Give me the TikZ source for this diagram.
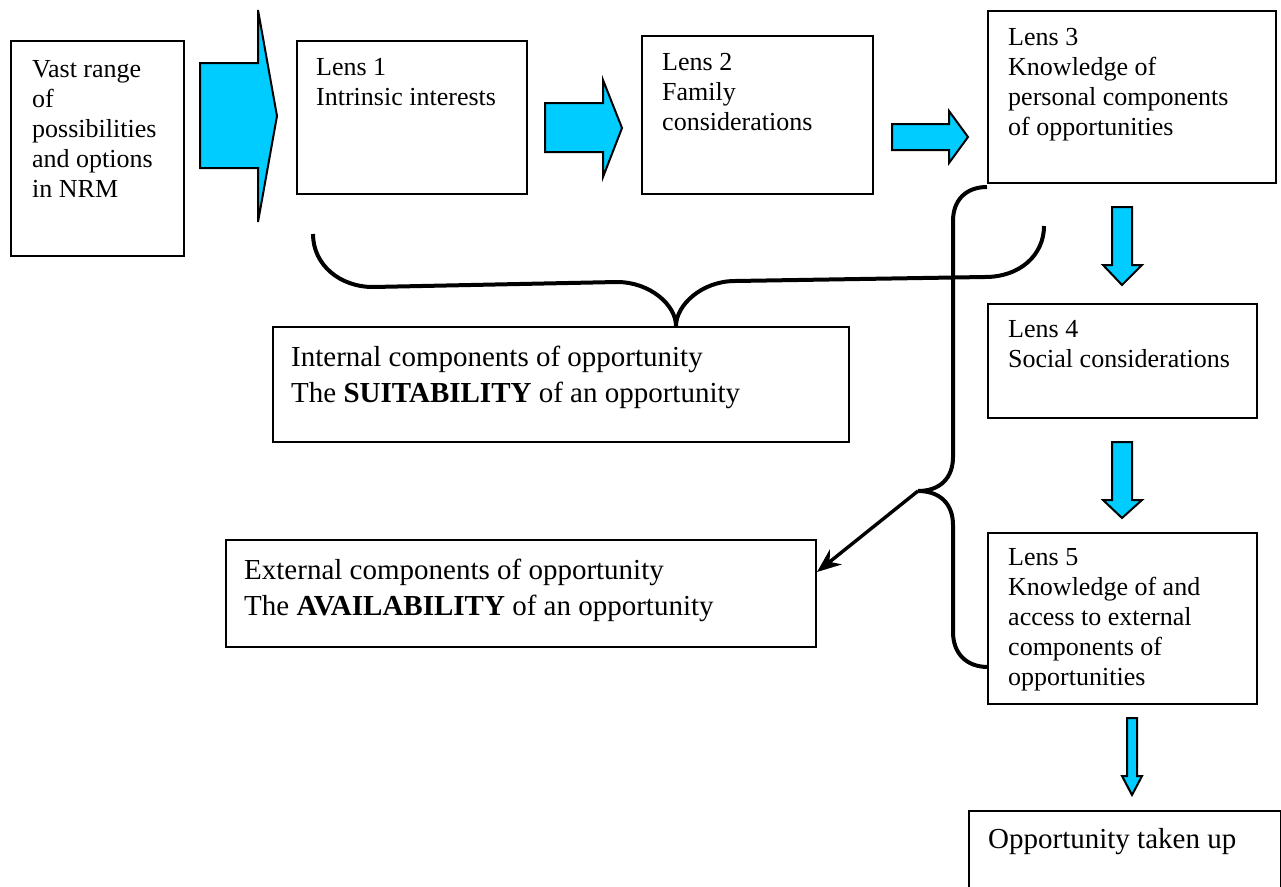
\documentclass[tikz,border=0pt]{standalone}
\usepackage{fontspec}
\setmainfont{Liberation Serif}
\usetikzlibrary{arrows.meta}
\definecolor{skyblue}{HTML}{00CCFF}
\newcommand\stack[1]{\begin{tabular}[t]{@{}l@{}}#1\end{tabular}}
\tikzset{
  box/.style={draw=black, line width=2pt, anchor=north west, inner sep=0pt},
  txt/.style={anchor=base west, inner sep=0pt, font=\fontsize{26}{30}\selectfont},
  bigtxt/.style={anchor=base west, inner sep=0pt, font=\fontsize{29}{36}\selectfont},
  blockarrow/.style={fill=skyblue, draw=black, line width=2pt, line join=miter},
  brace/.style={draw=black, line width=4pt},
  pointer/.style={draw=black, line width=3.4pt, -{Stealth[length=24pt, width=19pt]}},
}
\begin{document}
\begin{tikzpicture}[x=1pt, y=-1pt]
\useasboundingbox[fill=white] (0,0) rectangle (1281,886);

% boxes
\node[box, minimum width=173pt, minimum height=215pt] (vast) at (10,40) {};
\node[box, minimum width=230pt, minimum height=153pt] (lens1) at (296,40) {};
\node[box, minimum width=231pt, minimum height=158pt] (lens2) at (641,35) {};
\node[box, minimum width=288pt, minimum height=172pt] (lens3) at (987,10) {};
\node[box, minimum width=269pt, minimum height=114pt] (lens4) at (987,303) {};
\node[box, minimum width=269pt, minimum height=171pt] (lens5) at (987,532) {};
\node[box, minimum width=576pt, minimum height=115pt] (internal) at (272,326) {};
\node[box, minimum width=590pt, minimum height=107pt] (external) at (225,539) {};
\node[box, minimum width=312pt, minimum height=110pt] (taken) at (968,810) {};

% texts
\node[txt] (vastT) at ([shift={(22,37)}]vast.north west)
  {\stack{Vast range\\of\\possibilities\\and options\\in NRM}};
\node[txt] (lens1T) at ([shift={(20,35)}]lens1.north west)
  {\stack{Lens 1\\Intrinsic interests}};
\node[txt] (lens2T) at ([shift={(21,35)}]lens2.north west)
  {\stack{Lens 2\\Family\\considerations}};
\node[txt] (lens3T) at ([shift={(21,35)}]lens3.north west)
  {\stack{Lens 3\\Knowledge of\\personal components\\of opportunities}};
\node[txt] (lens4T) at ([shift={(21,34)}]lens4.north west)
  {\stack{Lens 4\\Social considerations}};
\node[txt] (lens5T) at ([shift={(21,33)}]lens5.north west)
  {\stack{Lens 5\\Knowledge of and\\access to external\\components of\\opportunities}};
\node[bigtxt] (internalT) at ([shift={(19,40)}]internal.north west)
  {\stack{Internal components of opportunity\\The \textbf{SUITABILITY} of an opportunity}};
\node[bigtxt] (externalT) at ([shift={(19,40)}]external.north west)
  {\stack{External components of opportunity\\The \textbf{AVAILABILITY} of an opportunity}};
\node[bigtxt] (takenT) at ([shift={(20,38)}]taken.north west)
  {Opportunity taken up};

% block arrows
\path[blockarrow] (200,63) -- (258,63) -- (258,10) -- (277,116) -- (258,222) -- (258,168) -- (200,168) -- cycle;
\path[blockarrow] (545,103) -- (603,103) -- (603,80) -- (622,128) -- (603,177) -- (603,152) -- (545,152) -- cycle;
\path[blockarrow] (892,124) -- (949,124) -- (949,111) -- (968,137) -- (949,163) -- (949,150) -- (892,150) -- cycle;
\path[blockarrow] (1112,207) -- (1132,207) -- (1132,265) -- (1142,265) -- (1122,285) -- (1103,265) -- (1112,265) -- cycle;
\path[blockarrow] (1112,442) -- (1132,442) -- (1132,500) -- (1142,500) -- (1122,518) -- (1103,500) -- (1112,500) -- cycle;
\path[blockarrow] (1127,718) -- (1137,718) -- (1137,776) -- (1142,776) -- (1132,795) -- (1122,776) -- (1127,776) -- cycle;

% brace over lenses 1-3
\path[brace] (313,234) .. controls (313,265) and (340,287) .. (373,287) -- (617,282)
  .. controls (650,282) and (676,305) .. (676,326)
  .. controls (676,305) and (702,281) .. (735,281) -- (985,277)
  .. controls (1020,277) and (1044,255) .. (1044,226);

% brace beside lenses 3-5
\coordinate (btip) at (918,491);
\path[brace] (987,187) .. controls (966,187) and (953,200) .. (953,221) -- (953,457)
  .. controls (953,478) and (940,491) .. (btip)
  .. controls (940,491) and (953,504) .. (953,525) -- (953,632)
  .. controls (953,653) and (966,667) .. (988,667);

% pointer to the external components
\path[pointer] (btip) -- (external.east |- 0,572);
\end{tikzpicture}
\end{document}
